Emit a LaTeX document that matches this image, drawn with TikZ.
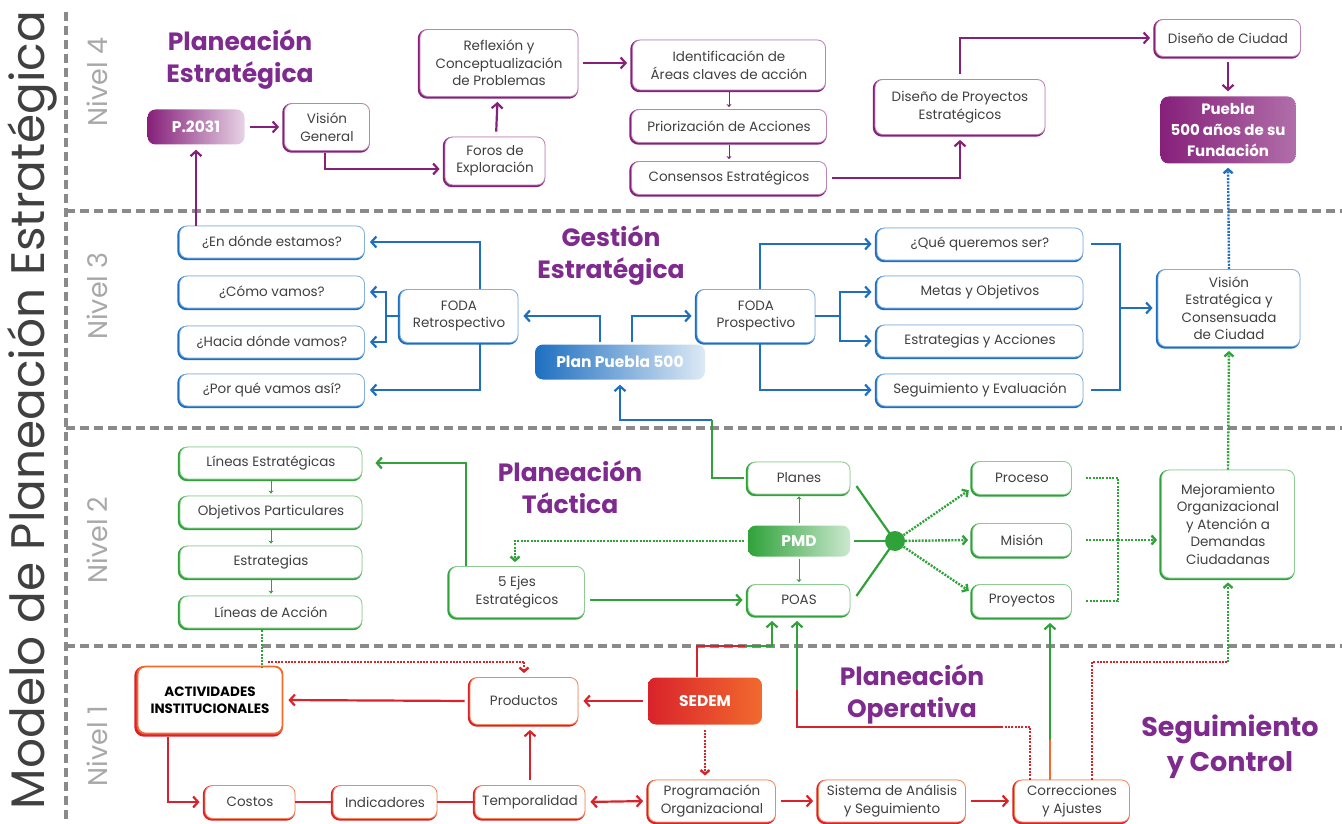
\documentclass[tikz,border=0pt]{standalone}
\usepackage{fontspec}
\setmainfont{Poppins}
\usetikzlibrary{arrows.meta,calc}
\definecolor{pur}{HTML}{86207A}
\definecolor{tit}{HTML}{7E2A8E}
\definecolor{blu}{HTML}{1E6FC0}
\definecolor{grn}{HTML}{2FA23A}
\definecolor{redA}{HTML}{D9232B}
\definecolor{org}{HTML}{F26A2E}
\definecolor{dgray}{HTML}{8A8A8A}
\definecolor{lgray}{HTML}{A8A8A8}
\definecolor{txt}{HTML}{404040}
\tikzset{
  bx/.style={draw=#1!55, line width=0.8pt, rounded corners=8pt, fill=white, align=center,
    text=txt, font=\fontsize{13.5}{17.5}\selectfont, inner sep=1pt,
    preaction={draw=#1, line width=2.4pt, transform canvas={shift={(-1pt,-1pt)}}}},
  fbx/.style={rounded corners=8pt, left color=#1, right color=#1!30, text=white, align=center,
    font=\bfseries\fontsize{15.5}{21}\selectfont, inner sep=1pt},
  ar/.style={line width=2.2pt, -{Straight Barb[length=5pt,width=11pt]}, shorten >=5pt},
  sh/.style={shorten <=5pt},
  ln/.style={line width=2.2pt},
  sar/.style={line width=1pt, -{Stealth[length=3pt,width=5pt]}, shorten >=2pt, shorten <=2pt},
  dt/.style={line width=2.4pt, dash pattern=on 2pt off 1.3pt},
  dta/.style={line width=2.4pt, dash pattern=on 2pt off 1.3pt, -{Straight Barb[length=4pt,width=9pt]}, shorten >=4pt},
  ttl/.style={text=tit, font=\bfseries\fontsize{25}{32}\selectfont, align=center},
  nivel/.style={text=lgray, font=\fontsize{27}{30}\selectfont, rotate=90},
  sep/.style={draw=dgray, line width=3.5pt, dash pattern=on 9pt off 5pt}
}
\begin{document}
\begin{tikzpicture}[x=1pt,y=-1pt]
\useasboundingbox (0,0) rectangle (1342,824);
% separators
\draw[sep] (66,12) -- (66,824);
\draw[sep] (66,211) -- (1342,211);
\draw[sep] (66,428) -- (1342,428);
\draw[sep] (66,646) -- (1342,646);
% side titles
\node[rotate=90, text=txt, font=\fontsize{47}{50}\selectfont] (main) at (32,410) {Modelo de Planeación Estratégica};
\node[nivel] (n4) at (97,82) {Nivel 4};
\node[nivel] (n3) at (97,296) {Nivel 3};
\node[nivel] (n2) at (97,540) {Nivel 2};
\node[nivel] (n1) at (97,746) {Nivel 1};
% section titles
\node[ttl] (t4) at (240,60) {Planeación\\Estratégica};
\node[ttl] (t3) at (611,256) {Gestión\\Estratégica};
\node[ttl] (t2) at (570,487) {Planeación\\Táctica};
\node[ttl] (t1) at (912,694) {Planeación\\Operativa};
\node[ttl, font=\bfseries\fontsize{27}{35}\selectfont] (t0) at (1230,747) {Seguimiento\\y Control};
% ---------------- Level 4
\node[fbx=pur, right color=pur!20, minimum width=97, minimum height=35] (p2031) at (196,127) {P.2031};
\node[bx=pur, minimum width=85, minimum height=47] (vg) at (327,127) {Visión\\General};
\node[bx=pur, minimum width=100, minimum height=48] (foros) at (495,161) {Foros de\\Exploración};
\node[bx=pur, minimum width=158, minimum height=67] (refl) at (499,63) {Reflexión y\\Conceptualización\\de Problemas};
\node[bx=pur, minimum width=193, minimum height=50] (ident) at (729,65) {Identificación de\\Áreas claves de acción};
\node[bx=pur, minimum width=195, minimum height=33] (prior) at (729,126) {Priorización de Acciones};
\node[bx=pur, minimum width=195, minimum height=33] (cons) at (729,178) {Consensos Estratégicos};
\node[bx=pur, minimum width=170, minimum height=55] (dproy) at (960,107) {Diseño de Proyectos\\Estratégicos};
\node[bx=pur, minimum width=145, minimum height=37] (dciu) at (1228,38) {Diseño de Ciudad};
\node[fbx=pur, right color=pur!65, minimum width=135, minimum height=67, font=\bfseries\fontsize{15}{21}\selectfont] (pue) at (1228,130) {Puebla\\500 años de su\\Fundación};
% ---------------- Level 3
\node[bx=blu, minimum width=185, minimum height=32] (q1) at (272,242) {¿En dónde estamos?};
\node[bx=blu, minimum width=185, minimum height=32] (q2) at (272,292) {¿Cómo vamos?};
\node[bx=blu, minimum width=185, minimum height=32] (q3) at (272,342) {¿Hacia dónde vamos?};
\node[bx=blu, minimum width=185, minimum height=32] (q4) at (272,390) {¿Por qué vamos así?};
\node[bx=blu, minimum width=118, minimum height=53] (fr) at (459,316) {FODA\\Retrospectivo};
\node[fbx=blu, right color=blu!15, minimum width=170, minimum height=35] (pp) at (620,362) {Plan Puebla 500};
\node[bx=blu, minimum width=118, minimum height=53] (fp) at (756,316) {FODA\\Prospectivo};
\node[bx=blu, minimum width=206, minimum height=32] (r1) at (980,244) {¿Qué queremos ser?};
\node[bx=blu, minimum width=206, minimum height=32] (r2) at (980,292) {Metas y Objetivos};
\node[bx=blu, minimum width=206, minimum height=32] (r3) at (980,341) {Estrategias y Acciones};
\node[bx=blu, minimum width=206, minimum height=32] (r4) at (980,390) {Seguimiento y Evaluación};
\node[bx=blu, minimum width=142, minimum height=77] (vis) at (1229,308) {Visión\\Estratégica y\\Consensuada\\de Ciudad};
% ---------------- Level 2
\node[bx=grn, minimum width=182, minimum height=32] (l1) at (271,463) {Líneas Estratégicas};
\node[bx=grn, minimum width=182, minimum height=32] (l2) at (271,512) {Objetivos Particulares};
\node[bx=grn, minimum width=182, minimum height=32] (l3) at (271,562) {Estrategias};
\node[bx=grn, minimum width=182, minimum height=32] (l4) at (271,612) {Líneas de Acción};
\node[bx=grn, minimum width=135, minimum height=51] (ejes) at (517,592) {5 Ejes\\Estratégicos};
\node[bx=grn, minimum width=102, minimum height=32] (planes) at (799,478) {Planes};
\node[fbx=grn, right color=grn!25, minimum width=102, minimum height=31] (pmd) at (799,541) {PMD};
\node[bx=grn, minimum width=102, minimum height=31] (poas) at (799,600) {POAS};
\node[circle, fill=grn, minimum size=20, inner sep=0pt] (junc) at (895,541) {};
\node[bx=grn, minimum width=99, minimum height=33] (proc) at (1022,478) {Proceso};
\node[bx=grn, minimum width=99, minimum height=33] (mis) at (1022,540) {Misión};
\node[bx=grn, minimum width=99, minimum height=33] (proy) at (1022,601) {Proyectos};
\node[bx=grn, minimum width=133, minimum height=108] (mej) at (1228,524) {Mejoramiento\\Organizacional\\y Atención a\\Demandas\\Ciudadanas};
% ---------------- Level 1
\node[bx=redA, draw=org, line width=1.8pt, minimum width=145, minimum height=67, text=black,
  font=\bfseries\fontsize{13.5}{17}\selectfont,
  preaction={draw=redA, line width=3.6pt, transform canvas={shift={(-1.4pt,-1.4pt)}}}] (act) at (210,700) {ACTIVIDADES\\INSTITUCIONALES};
\node[bx=redA, draw=org!80, minimum width=108, minimum height=47] (prod) at (524,701) {Productos};
\node[fbx=redA, right color=org, minimum width=114, minimum height=47] (sedem) at (705,701) {SEDEM};
\node[bx=redA, draw=org!80, minimum width=90, minimum height=33] (cost) at (250,802) {Costos};
\node[bx=redA, draw=org!80, minimum width=104, minimum height=33] (ind) at (385,802) {Indicadores};
\node[bx=redA, draw=org!80, minimum width=110, minimum height=33] (temp) at (530,802) {Temporalidad};
\node[bx=redA, draw=org!80, minimum width=127, minimum height=42] (prog) at (712,801) {Programación\\Organizacional};
\node[bx=redA, draw=org!80, minimum width=147, minimum height=42] (sist) at (892,801) {Sistema de Análisis\\y Seguimiento};
\node[bx=redA, draw=org!80, minimum width=115, minimum height=42] (corr) at (1072,801) {Correcciones\\y Ajustes};
% ---------------- connectors level 4
\draw[ar, sh, pur] (p2031) -- (vg);
\draw[ar, pur] ($(vg.south)+(-2,2)$) |- ($(foros.west)+(0,8)$);
\draw[ar, sh, pur] (foros) -- (refl);
\draw[ar, sh, pur] (refl.east) -- (ident.west |- refl.east);
\draw[sar, pur] (ident) -- (prior);
\draw[sar, pur] (prior) -- (cons);
\draw[ar, sh, pur] (cons.east) -| (dproy.south);
\draw[ar, sh, pur] (dproy.north) |- (dciu.west);
\draw[ar, sh, pur] (dciu) -- (pue);
\draw[ar, pur] (q1.north -| p2031.south) -- (p2031.south);
\draw[dta, blu] (vis.north) -- (pue.south);
% ---------------- connectors level 3
\draw[ar, blu] ($(fr.north)+(21,0)$) |- (q1.east);
\draw[ar, blu] ($(fr.south)+(21,0)$) |- (q4.east);
\coordinate (bl) at (386,316);
\draw[ln, blu] (fr.west) -- (bl);
\draw[ar, blu] (bl) |- (q2.east);
\draw[ar, blu] (bl) |- (q3.east);
\draw[ar, blu] ($(pp.north)+(-20,-2)$) |- (fr.east);
\draw[ar, blu] ($(pp.north)+(12,-2)$) |- (fp.west);
\draw[ar, blu] ($(fp.north)+(4,0)$) |- (r1.west);
\draw[ar, blu] ($(fp.south)+(4,0)$) |- (r4.west);
\coordinate (br) at (840,316);
\draw[ln, blu] (fp.east) -- (br);
\draw[ar, blu] (br) |- (r2.west);
\draw[ar, blu] (br) |- (r3.west);
\coordinate (rb) at (1120,317);
\draw[ln, blu] ($(r1.east)+(8,0)$) -| (rb |- r4.east) -- ($(r4.east)+(8,0)$);
\draw[ar, blu] (rb |- vis.west) -- (vis.west);
\coordinate (pj) at (712,420);
\draw[ar, blu] (pj) -| (pp.south);
\draw[ln, grn] (pj) |- ($(planes.west)+(-4,0)$);
% ---------------- connectors level 2
\draw[sar, grn] (l1) -- (l2);
\draw[sar, grn] (l2) -- (l3);
\draw[sar, grn] (l3) -- (l4);
\draw[ar, grn] ($(ejes.north)+(-51,0)$) |- ($(l1.east)+(8,0)$);
\draw[ar, sh, grn] (ejes.east |- poas.west) -- (poas.west);
\draw[dta, grn] ($(pmd.west)+(-4,0)$) -| ($(ejes.north)+(-2,0)$);
\draw[sar, grn] (pmd) -- (planes);
\draw[sar, grn] (pmd) -- (poas);
\draw[ln, grn] ($(planes.east)+(6,8)$) -- (junc.center);
\draw[ln, grn] ($(pmd.east)+(4,0)$) -- (junc.center);
\draw[ln, grn] ($(poas.east)+(6,-4)$) -- (junc.center);
\draw[dta, grn] (junc) -- ($(proc.west)+(0,10)$);
\draw[dta, grn] (junc) -- (mis.west);
\draw[dta, grn] (junc) -- ($(proy.west)+(0,-8)$);
\coordinate (gb) at (1118,540);
\draw[dt, grn] ($(proc.east)+(14,0)$) -| (gb |- proy.east) -- ($(proy.east)+(14,0)$);
\draw[dt, grn] ($(mis.east)+(14,0)$) -- (gb);
\draw[dta, grn] (gb) -- (mej.west |- gb);
\draw[dta, grn] (mej.north) -- (vis.south);
% ---------------- connectors level 1
\draw[ar, sh, redA] (sedem.west) -- (prod.east);
\draw[ar, sh, redA] (prod.west) -- (act.east);
\draw[ar, redA] ($(act.south)+(-42,3)$) |- (cost.west);
\draw[ln, redA] (cost.east) -- (ind.west);
\draw[ln, redA] (ind.east) -- (temp.west);
\draw[ar, sh, redA] (temp.north) -- (temp.north |- prod.south);
\draw[line width=2.2pt, {Straight Barb[length=5pt,width=11pt]}-{Straight Barb[length=5pt,width=11pt]}, shorten >=5pt, shorten <=5pt, redA] (temp.east) -- (prog.west);
\draw[dta, sh, redA] (sedem.south) -- (sedem.south |- prog.north);
\draw[ar, sh, redA] (prog.east) -- (sist.west);
\draw[ar, sh, redA] (sist.east) -- (corr.west);
% SEDEM -> POAS
\draw[ln, redA] ($(sedem.north)+(-8,0)$) |- (745,646);
\draw[ar, grn] (745,646) -| ($(poas.south)+(-27,0)$);
% Correcciones -> POAS
\draw[dt, redA] ($(corr.north)+(-42,0)$) |- (1000,727);
\draw[ln, redA] (1000,727) -| (797,690);
\draw[ar, grn] (797,690) -- ($(poas.south)+(-2,0)$);
% Correcciones -> Proyectos
\draw[ln, org] ($(corr.north)+(-22,0)$) -- (1050,740);
\draw[ar, grn] (1050,740) -- (proy.south -| 1050,0);
% Correcciones -> Mejoramiento
\coordinate (cm) at (1228,662);
\draw[dt, redA] ($(corr.north)+(20,0)$) |- (cm);
\draw[dta, grn] (cm) -- (mej.south);
% Lineas de Accion -> Actividades ; -> Productos
\draw[dt, grn] ($(l4.south)+(-9,2)$) -- (262,668);
\draw[dt, redA] (268,662) -- (524,662);
\draw[dta, redA] (524,662) -- (prod.north);
\end{tikzpicture}
\end{document}
